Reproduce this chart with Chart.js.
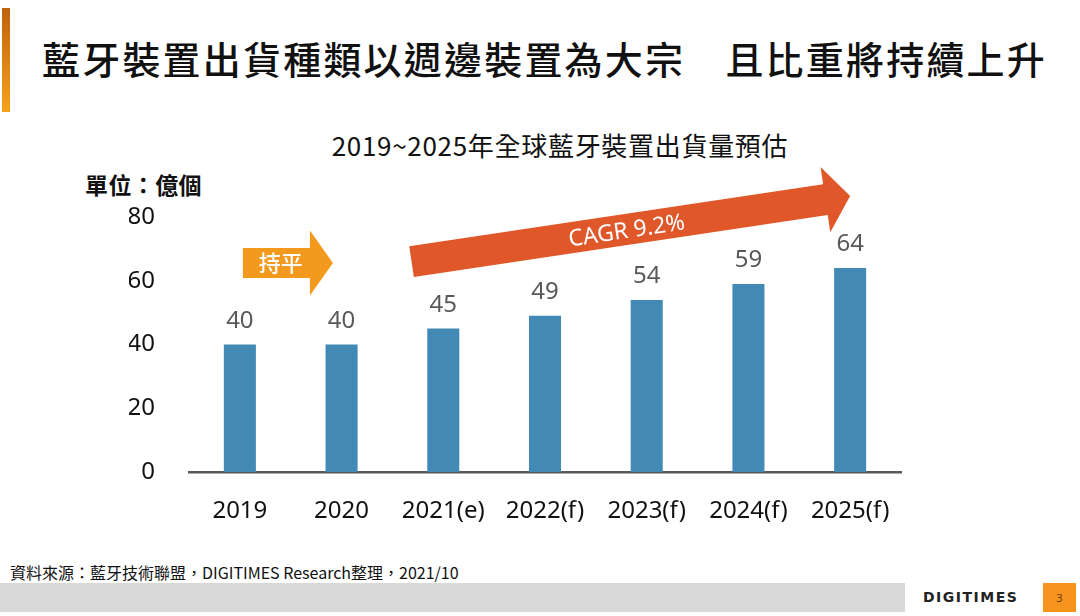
<!DOCTYPE html>
<html>
<head>
<meta charset="utf-8">
<script src="https://cdn.jsdelivr.net/npm/chart.js@4.4.1/dist/chart.umd.min.js"></script>
<style>
    html, body { margin: 0; padding: 0; background: #fff; }
    body { width: 1080px; height: 616px; position: relative; overflow: hidden;
           font-family: 'Noto Sans CJK TC', 'Noto Sans', sans-serif; }
    .accent { position: absolute; left: 2px; top: 8px; width: 8px; height: 104px;
              background: linear-gradient(#c0620a, #f6a21e); }
    .title { position: absolute; left: 42px; top: 33px; font-size: 38px; line-height: 50px;
             letter-spacing: 2.2px; color: #111; font-weight: 500; white-space: nowrap; }
    .chart-title { position: absolute; left: 0; width: 1120px; top: 128px; text-align: center;
                   font-size: 26px; line-height: 34px; letter-spacing: 0.7px; color: #111; }
    .unit { position: absolute; left: 85px; top: 170px; font-size: 23px; line-height: 28px;
            letter-spacing: 0.4px; font-weight: bold; color: #111; }
    .source { position: absolute; left: 10px; top: 562px; font-size: 16px; line-height: 20px; color: #111; }
    .band { position: absolute; left: 0; top: 583px; width: 905px; height: 29px; background: #d9d9d9; }
    .logo { position: absolute; left: 923px; top: 587px; font-family: 'DejaVu Sans', sans-serif;
            font-weight: bold; font-size: 14px; line-height: 20px; color: #222; letter-spacing: 1.5px; }
    .page { position: absolute; left: 1043px; top: 583px; width: 33px; height: 29px; background: #f7941d;
            color: #6b3a00; font-size: 11px; line-height: 29px; text-align: center; font-family: 'Noto Sans', sans-serif; }
    .chart-box { position: absolute; left: 0; top: 0; width: 1080px; height: 616px; }
</style>
</head>
<body>
<div class="accent"></div>
<div class="title">藍牙裝置出貨種類以週邊裝置為大宗　且比重將持續上升</div>
<div class="chart-title">2019~2025年全球藍牙裝置出貨量預估</div>
<div class="unit">單位：億個</div>
<div class="source">資料來源：藍牙技術聯盟，DIGITIMES Research整理，2021/10</div>
<div class="band"></div>
<div class="logo">DIGITIMES</div>
<div class="page">3</div>
<div class="chart-box"><canvas id="shipmentChart"></canvas></div>

<script>
// Chart data
const categories = ['2019', '2020', '2021(e)', '2022(f)', '2023(f)', '2024(f)', '2025(f)'];
const shipments = [40, 40, 45, 49, 54, 59, 64];
const yTicks = [0, 20, 40, 60, 80];

// Arrow annotations, placed in category index / value units
const arrows = [
    { from: [0.03, 65.6], to: [0.915, 65.6], body: 15, head: 32.5, headLen: 23,
      color: '#f39a1e', text: '持平', textAt: 0.42, textOffset: 0,
      font: '500 22px "Noto Sans CJK TC", sans-serif' },
    { from: [1.688, 66.0], to: [6.0, 86.6], body: 15.5, head: 33, headLen: 25,
      color: '#e0572a', text: 'CAGR 9.2%', textAt: 0.49, textOffset: 2,
      font: '23px "Noto Sans", sans-serif' }
];

// Draw value labels above the bars
const barLabels = {
    id: 'barLabels',
    afterDatasetsDraw(chart) {
        const ctx = chart.ctx;
        const meta = chart.getDatasetMeta(0);
        ctx.save();
        ctx.font = '24px "Noto Sans", sans-serif';
        ctx.fillStyle = '#595959';
        ctx.textAlign = 'center';
        ctx.textBaseline = 'alphabetic';
        meta.data.forEach((bar, i) => {
            ctx.fillText(shipments[i], bar.x, bar.y - 17);
        });
        ctx.restore();
    }
};

// Draw the trend arrows
const trendArrows = {
    id: 'trendArrows',
    afterDraw(chart) {
        const ctx = chart.ctx;
        const xs = chart.scales.x;
        const ys = chart.scales.y;
        arrows.forEach(a => {
            const x0 = xs.getPixelForValue(a.from[0]);
            const y0 = ys.getPixelForValue(a.from[1]);
            const x1 = xs.getPixelForValue(a.to[0]);
            const y1 = ys.getPixelForValue(a.to[1]);
            const len = Math.hypot(x1 - x0, y1 - y0);
            const ang = Math.atan2(y1 - y0, x1 - x0);
            const b = len - a.headLen;

            ctx.save();
            ctx.translate(x0, y0);
            ctx.rotate(ang);
            ctx.beginPath();
            ctx.moveTo(0, -a.body);
            ctx.lineTo(b, -a.body);
            ctx.lineTo(b, -a.head);
            ctx.lineTo(len, 0);
            ctx.lineTo(b, a.head);
            ctx.lineTo(b, a.body);
            ctx.lineTo(0, a.body);
            ctx.closePath();
            ctx.fillStyle = a.color;
            ctx.fill();

            ctx.font = a.font;
            ctx.fillStyle = '#fff';
            ctx.textAlign = 'center';
            ctx.textBaseline = 'middle';
            ctx.fillText(a.text, len * a.textAt, a.textOffset);
            ctx.restore();
        });
    }
};

const ctx = document.getElementById('shipmentChart').getContext('2d');
new Chart(ctx, {
    type: 'bar',
    data: {
        labels: categories,
        datasets: [{
            data: shipments,
            backgroundColor: '#4289b5',
            borderWidth: 0,
            barPercentage: 1,
            categoryPercentage: 0.315
        }]
    },
    options: {
        responsive: true,
        maintainAspectRatio: false,
        animation: false,
        layout: {
            padding: { left: 129, right: 179, top: 217, bottom: 84 }
        },
        plugins: {
            legend: { display: false },
            tooltip: { enabled: false }
        },
        scales: {
            x: {
                grid: { display: false },
                border: { display: true, color: '#595959', width: 2.5 },
                ticks: {
                    color: '#111',
                    padding: 17,
                    maxRotation: 0,
                    font: { family: 'Noto Sans', size: 24 }
                },
                afterFit(scale) { scale.height = 60; }
            },
            y: {
                min: yTicks[0],
                max: yTicks[yTicks.length - 1],
                grid: { display: false, drawTicks: false },
                border: { display: false },
                afterBuildTicks(scale) {
                    scale.ticks = yTicks.map(v => ({ value: v }));
                },
                ticks: {
                    color: '#111',
                    padding: 34,
                    font: { family: 'Noto Sans', size: 24 }
                },
                afterFit(scale) { scale.width = 60; }
            }
        }
    },
    plugins: [barLabels, trendArrows]
});
</script>
</body>
</html>
